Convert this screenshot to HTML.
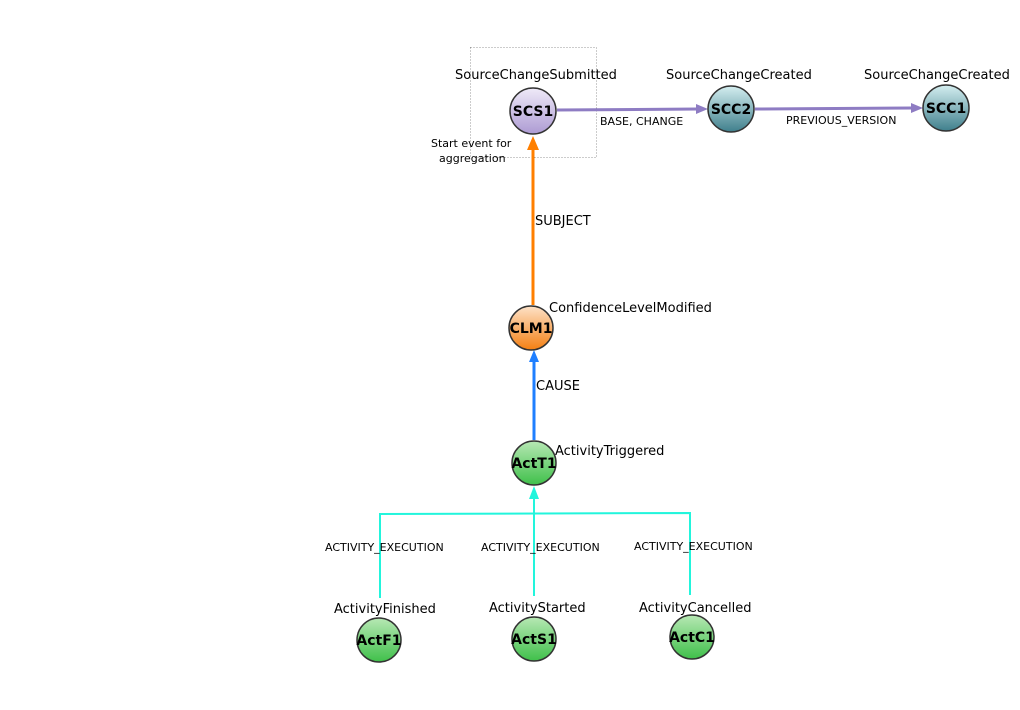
<!DOCTYPE html>
<html><head><meta charset="utf-8"><style>
html,body{margin:0;padding:0;background:#fff;width:1020px;height:710px;overflow:hidden}
text{font-family:"DejaVu Sans","Liberation Sans",sans-serif}
.l{font-size:13px;fill:#000}
.s{font-size:11px;fill:#000}
.n{font-size:14px;font-weight:bold;fill:#000;text-anchor:middle}
</style></head><body>
<svg width="1020" height="710" viewBox="0 0 1020 710" xmlns="http://www.w3.org/2000/svg">
<defs>
<linearGradient id="gp" x1="0" y1="0" x2="0" y2="1"><stop offset="0" stop-color="#efeaf8"/><stop offset="1" stop-color="#ad9bd3"/></linearGradient>
<linearGradient id="gt" x1="0" y1="0" x2="0" y2="1"><stop offset="0" stop-color="#d4eef0"/><stop offset="1" stop-color="#3f7f8c"/></linearGradient>
<linearGradient id="go" x1="0" y1="0" x2="0" y2="1"><stop offset="0" stop-color="#fde2c8"/><stop offset="1" stop-color="#f47f12"/></linearGradient>
<linearGradient id="gg" x1="0" y1="0" x2="0" y2="1"><stop offset="0" stop-color="#b7e8b4"/><stop offset="1" stop-color="#3fc04a"/></linearGradient>
</defs>
<rect x="470.5" y="47.5" width="126" height="110" fill="none" stroke="#999" stroke-dasharray="1,2"/>
<line x1="557" y1="110" x2="698" y2="109" stroke="#8e7cc3" stroke-width="3"/>
<polygon points="708,109 696,104 696,114" fill="#8e7cc3"/>
<line x1="755" y1="109" x2="912" y2="108" stroke="#8e7cc3" stroke-width="3"/>
<polygon points="923,108 911,103 911,113" fill="#8e7cc3"/>
<line x1="533" y1="305" x2="533" y2="148" stroke="#ff7f00" stroke-width="3"/>
<polygon points="533,136 527,150 539,150" fill="#ff7f00"/>
<line x1="534" y1="440" x2="534" y2="360" stroke="#1f7fff" stroke-width="3"/>
<polygon points="534,350 529,362 539,362" fill="#1f7fff"/>
<g stroke="#22f5dc" stroke-width="2" fill="none">
<polyline points="380,598 380,514 690,513 690,595"/>
<line x1="534" y1="596" x2="534" y2="498"/>
</g>
<polygon points="534,486 529,499 539,499" fill="#22f5dc"/>
<g stroke="#333" stroke-width="1.5">
<circle cx="533" cy="111" r="23" fill="url(#gp)"/>
<circle cx="731" cy="109" r="23" fill="url(#gt)"/>
<circle cx="946" cy="108" r="23" fill="url(#gt)"/>
<circle cx="531" cy="328" r="22" fill="url(#go)"/>
<circle cx="534" cy="463" r="22" fill="url(#gg)"/>
<circle cx="379" cy="640" r="22" fill="url(#gg)"/>
<circle cx="534" cy="639" r="22" fill="url(#gg)"/>
<circle cx="692" cy="637" r="22" fill="url(#gg)"/>
</g>
<text class="n" x="533" y="116">SCS1</text>
<text class="n" x="731" y="114">SCC2</text>
<text class="n" x="946" y="113">SCC1</text>
<text class="n" x="531" y="333">CLM1</text>
<text class="n" x="534" y="468">ActT1</text>
<text class="n" x="379" y="645">ActF1</text>
<text class="n" x="534" y="644">ActS1</text>
<text class="n" x="692" y="642">ActC1</text>
<text class="l" x="455" y="79">SourceChangeSubmitted</text>
<text class="l" x="666" y="79">SourceChangeCreated</text>
<text class="l" x="864" y="79">SourceChangeCreated</text>
<text class="l" x="549" y="312">ConfidenceLevelModified</text>
<text class="l" x="555" y="455">ActivityTriggered</text>
<text class="l" x="334" y="613">ActivityFinished</text>
<text class="l" x="489" y="612">ActivityStarted</text>
<text class="l" x="639" y="612">ActivityCancelled</text>
<text class="s" x="600" y="125">BASE, CHANGE</text>
<text class="s" x="786" y="124">PREVIOUS_VERSION</text>
<text class="s" x="431" y="147">Start event for</text>
<text class="s" x="439" y="162">aggregation</text>
<text class="l" x="535" y="225">SUBJECT</text>
<text class="l" x="536" y="390">CAUSE</text>
<text class="s" x="325" y="551">ACTIVITY_EXECUTION</text>
<text class="s" x="481" y="551">ACTIVITY_EXECUTION</text>
<text class="s" x="634" y="550">ACTIVITY_EXECUTION</text>
</svg>
</body></html>
